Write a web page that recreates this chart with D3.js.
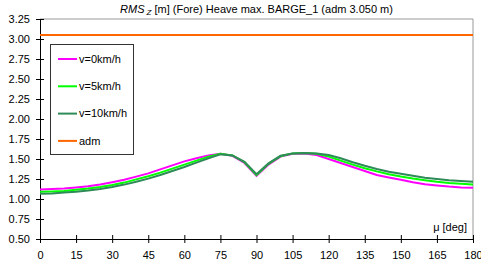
<!DOCTYPE html>
<html>
<head>
<meta charset="utf-8">
<script src="https://cdn.jsdelivr.net/npm/d3@7.9.0/dist/d3.min.js"></script>
<style>
  body { margin: 0; background: #fff; }
  svg { display: block; font-family: "Liberation Sans", Arial, sans-serif; }
</style>
</head>
<body>
<div id="plot-container"></div>
<script>
// heading angles, deg
const mu = d3.range(0, 181, 5);

const v0 = [1.12, 1.125, 1.13, 1.145, 1.16, 1.18, 1.21, 1.24, 1.28, 1.32, 1.37, 1.42, 1.47, 1.51, 1.545,
  1.565, 1.54, 1.45, 1.29, 1.43, 1.53, 1.565, 1.57, 1.55, 1.50, 1.45, 1.40, 1.35, 1.30, 1.27, 1.24,
  1.21, 1.185, 1.17, 1.155, 1.145, 1.14];
const v5 = [1.09, 1.095, 1.10, 1.115, 1.13, 1.15, 1.175, 1.205, 1.245, 1.285, 1.33, 1.38, 1.43, 1.48, 1.53,
  1.565, 1.545, 1.46, 1.30, 1.44, 1.535, 1.57, 1.575, 1.565, 1.53, 1.48, 1.43, 1.385, 1.345, 1.31, 1.28,
  1.255, 1.235, 1.215, 1.20, 1.19, 1.18];
const v10 = [1.065, 1.07, 1.08, 1.09, 1.105, 1.125, 1.15, 1.18, 1.215, 1.255, 1.30, 1.35, 1.40, 1.455, 1.51,
  1.56, 1.545, 1.465, 1.31, 1.445, 1.54, 1.57, 1.575, 1.57, 1.55, 1.51, 1.46, 1.415, 1.375, 1.34, 1.315,
  1.29, 1.265, 1.25, 1.235, 1.225, 1.215];
const adm = 3.05;

const seriesNames = ["v=0km/h", "v=5km/h", "v=10km/h", "adm"];
const seriesColors = ["#ff00ff", "#00ff00", "#2e8b57", "#ff6600"];

const xTicks = d3.range(0, 181, 15);
const yTicks = d3.range(0.5, 3.26, 0.25);

function renderPlot() {
    const width = 481;
    const height = 261;
    const margin = { top: 19, right: 8, bottom: 22, left: 40 };

    const svg = d3.select('#plot-container')
        .append('svg')
        .attr('width', width)
        .attr('height', height);

    const xScale = d3.scaleLinear().domain([0, 180]).range([margin.left, width - margin.right]);
    const yScale = d3.scaleLinear().domain([0.5, 3.25]).range([height - margin.bottom, margin.top]);

    // plot frame (top + right)
    svg.append('path')
        .attr('d', `M${xScale(0)},${yScale(3.25)}H${xScale(180)}V${yScale(0.5)}`)
        .attr('fill', 'none')
        .attr('stroke', '#999')
        .attr('stroke-width', 1);

    // axes
    const xAxis = svg.append('g')
        .attr('transform', `translate(0, ${yScale(0.5)})`)
        .call(d3.axisBottom(xScale).tickValues(xTicks).tickSize(4).tickPadding(8).tickSizeOuter(0));
    xAxis.selectAll('.tick line').attr('y1', -4);

    const yAxis = svg.append('g')
        .attr('transform', `translate(${xScale(0)}, 0)`)
        .call(d3.axisLeft(yScale).tickValues(yTicks).tickFormat(d3.format('.2f')).tickSize(4).tickPadding(6).tickSizeOuter(0));
    yAxis.selectAll('.tick line').attr('x1', 4);

    svg.selectAll('.tick text')
        .attr('font-size', 11)
        .attr('fill', '#000')
        .attr('font-family', '"Liberation Sans", Arial, sans-serif');
    svg.selectAll('.domain, .tick line').attr('stroke', '#000');

    // lines
    const line = d3.line()
        .x(d => xScale(d[0]))
        .y(d => yScale(d[1]));

    const data = [v0, v5, v10].map(vals => vals.map((v, i) => [mu[i], v]));
    data.push(mu.map(m => [m, adm]));

    // draw slowest last so it sits on top like the original? keep drawing order
    const order = [0, 1, 2, 3];
    svg.append('g').selectAll('path')
        .data(order)
        .join('path')
        .attr('fill', 'none')
        .attr('stroke', i => seriesColors[i])
        .attr('stroke-width', 2)
        .attr('d', i => line(data[i]));

    // title
    const title = svg.append('text')
        .attr('x', (xScale(0) + xScale(180)) / 2)
        .attr('y', 13)
        .attr('text-anchor', 'middle')
        .attr('font-size', 11);
    title.append('tspan').attr('font-style', 'italic').text('RMS');
    title.append('tspan').attr('font-style', 'italic').attr('font-size', 8).attr('dy', 2).attr('dx', 2).text('Z');
    title.append('tspan').attr('dy', -2).text(' [m] (Fore) Heave max. BARGE_1 (adm 3.050 m)');

    // x axis title
    svg.append('text')
        .attr('x', xScale(180) - 6)
        .attr('y', yScale(0.5) - 8)
        .attr('text-anchor', 'end')
        .attr('font-size', 11)
        .text('μ [deg]');

    // legend
    const legend = svg.append('g');
    legend.append('rect')
        .attr('x', 50.5).attr('y', 44.5)
        .attr('width', 83).attr('height', 110)
        .attr('fill', '#fff')
        .attr('stroke', '#333')
        .attr('stroke-width', 1);

    const items = legend.selectAll('g.item')
        .data(seriesNames)
        .join('g')
        .attr('class', 'item')
        .attr('transform', (d, i) => `translate(58, ${59 + i * 27.3})`);
    items.append('line')
        .attr('x1', 0).attr('x2', 19)
        .attr('stroke', (d, i) => seriesColors[i])
        .attr('stroke-width', 2);
    items.append('text')
        .attr('x', 21)
        .attr('dy', '0.35em')
        .attr('font-size', 11)
        .text(d => d);
}

renderPlot();
</script>
</body>
</html>
